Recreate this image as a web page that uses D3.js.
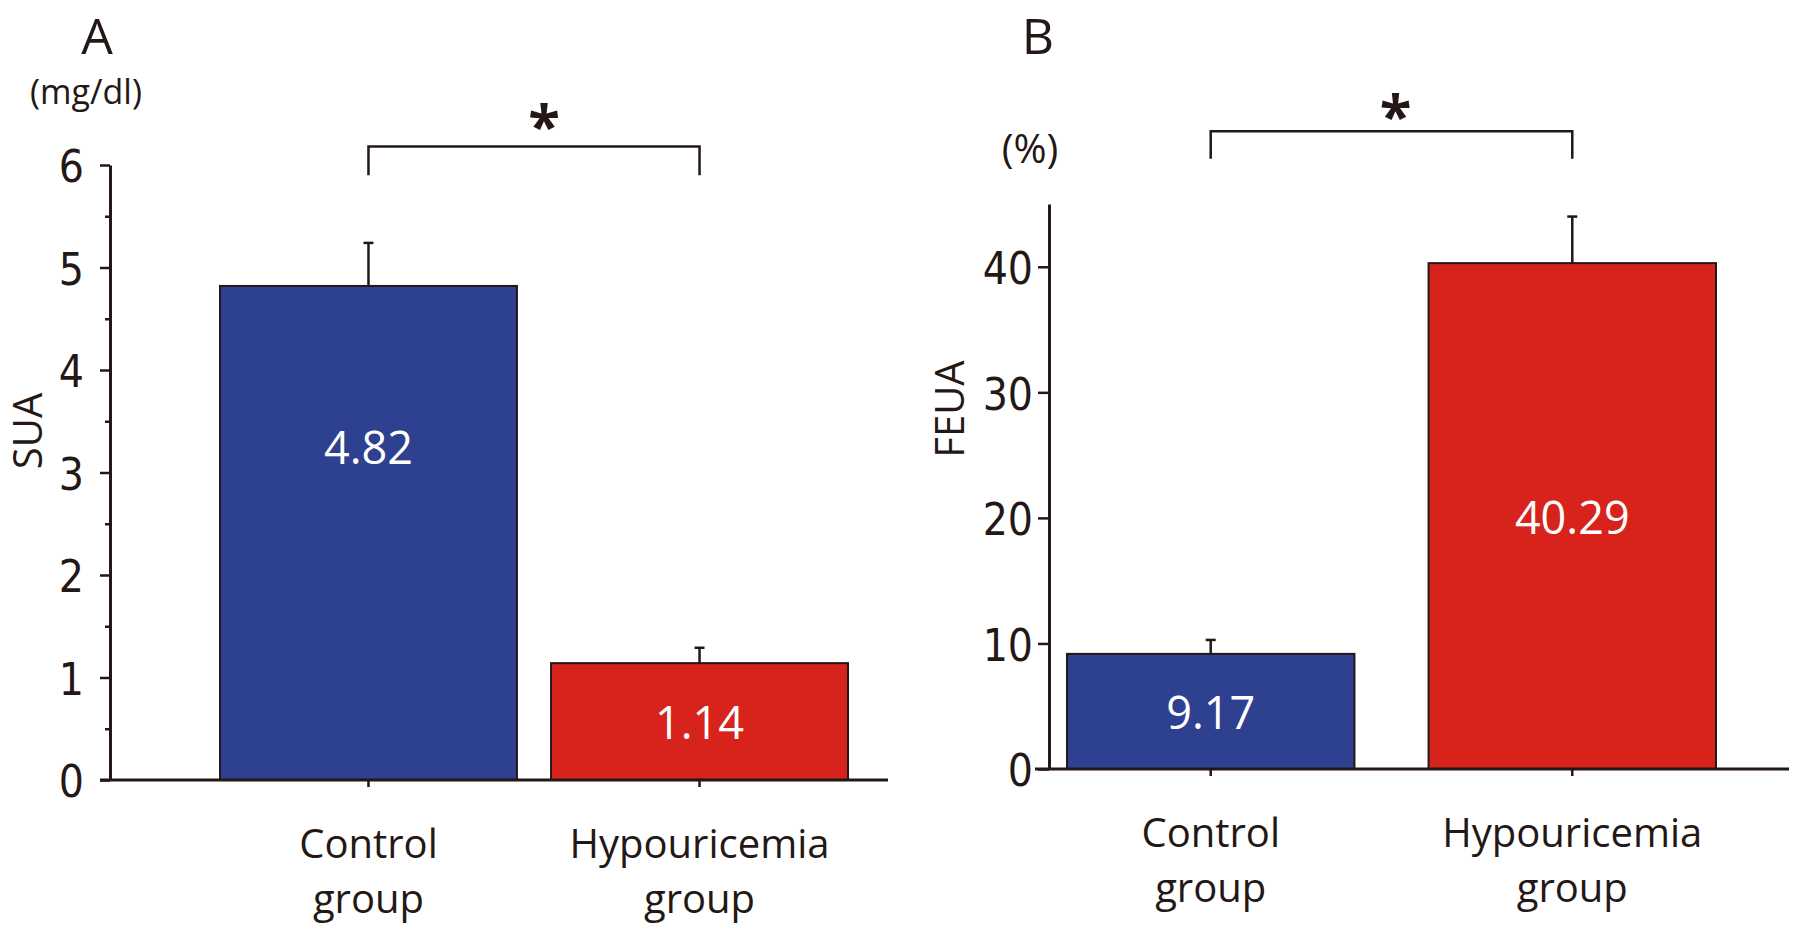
<!DOCTYPE html>
<html>
<head>
<meta charset="utf-8">
<script src="https://cdn.jsdelivr.net/npm/d3@7"></script>
<style>
  body { margin: 0; background: #fff; }
  svg { display: block; }
  .tick text { font-family: "Liberation Sans Narrow", "DejaVu Sans Condensed", "Roboto Condensed", sans-serif; font-stretch: condensed; fill: #231815; }
  .txt { font-family: "Open Sans", "Noto Sans", sans-serif; fill: #231815; }
</style>
</head>
<body>
<div id="wrapper"></div>
<script>
const categories = ['Control group', 'Hypouricemia group']
const suaMeans = [4.82, 1.14]
const suaErrors = [0.42, 0.15]
const suaTicks = [0, 1, 2, 3, 4, 5, 6]
const suaMinorTicks = [0.5, 1.5, 2.5, 3.5, 4.5, 5.5]
const feuaMeans = [9.17, 40.29]
const feuaErrors = [1.11, 3.71]
const feuaTicks = [0, 10, 20, 30, 40]
const barColors = ['#2e4190', '#d8231d']
const ink = '#231815'

const dimensions = { width: 1799, height: 931 }

const svg = d3.select('#wrapper').append('svg')
    .attr('width', dimensions.width)
    .attr('height', dimensions.height)

// panel layout, in pixels and data units
const panels = [
    {
        letter: 'A', letterX: 97, letterY: 54,
        unit: '(mg/dl)', unitX: 86, unitY: 104, unitSize: 34,
        title: 'SUA', titleX: 26, titleY: 431,
        means: suaMeans, errors: suaErrors,
        ticks: suaTicks, minorTicks: suaMinorTicks,
        yDomain: [0, 6], yRange: [780, 165],
        axisX: 110, tickSize: 10, tickPadding: 16,
        xRange: [220, 848], padInner: 0.103,
        baseLine: [100, 888],
        labelAt: [3.25, null],
        bracket: [5.9, 6.18], star: 6.55, starDx: 10
    },
    {
        letter: 'B', letterX: 1038, letterY: 54,
        unit: '(%)', unitX: 1030, unitY: 163, unitSize: 40,
        title: 'FEUA', titleX: 948, titleY: 409,
        means: feuaMeans, errors: feuaErrors,
        ticks: feuaTicks, minorTicks: [],
        yDomain: [0, 45], yRange: [769, 204],
        axisX: 1049, tickSize: 11, tickPadding: 5,
        xRange: [1067, 1716], padInner: 0.205,
        baseLine: [1035, 1789],
        labelAt: [null, null],
        bracket: [48.6, 50.8], star: 53.4, starDx: 4
    }
]

panels.forEach(drawPanel)

function drawPanel (p) {
    const yScale = d3.scaleLinear().domain(p.yDomain).range(p.yRange)
    const xScale = d3.scaleBand()
        .domain(categories)
        .range(p.xRange)
        .paddingInner(p.padInner)
        .paddingOuter(0)
    const cx = (c) => xScale(c) + xScale.bandwidth() / 2
    const g = svg.append('g')

    // bars
    g.selectAll('rect.bar')
        .data(categories)
        .join('rect')
        .attr('class', 'bar')
        .attr('x', d => xScale(d))
        .attr('width', xScale.bandwidth())
        .attr('y', (d, i) => yScale(p.means[i]))
        .attr('height', (d, i) => yScale(0) - yScale(p.means[i]))
        .attr('fill', (d, i) => barColors[i])
        .attr('stroke', ink)
        .attr('stroke-width', 2)

    // error bars
    const err = g.selectAll('g.err')
        .data(categories)
        .join('g')
        .attr('class', 'err')
        .attr('stroke', ink)
        .attr('stroke-width', 2.5)
    err.append('line')
        .attr('x1', d => cx(d)).attr('x2', d => cx(d))
        .attr('y1', (d, i) => yScale(p.means[i]))
        .attr('y2', (d, i) => yScale(p.means[i] + p.errors[i]))
    err.append('line')
        .attr('x1', d => cx(d) - 5).attr('x2', d => cx(d) + 5)
        .attr('y1', (d, i) => yScale(p.means[i] + p.errors[i]))
        .attr('y2', (d, i) => yScale(p.means[i] + p.errors[i]))

    // value labels
    g.selectAll('text.val')
        .data(categories)
        .join('text')
        .attr('class', 'txt val')
        .attr('x', d => cx(d))
        .attr('y', (d, i) => yScale(p.labelAt[i] !== null ? p.labelAt[i] : p.means[i] / 2))
        .attr('text-anchor', 'middle')
        .attr('dominant-baseline', 'central')
        .style('fill', '#fff')
        .style('font-size', '45px')
        .text((d, i) => p.means[i].toFixed(2))

    // y axis
    const yAxis = g.append('g')
        .attr('transform', `translate(${p.axisX},0)`)
        .call(d3.axisLeft(yScale)
            .tickValues(p.ticks)
            .tickSize(p.tickSize)
            .tickSizeOuter(0)
            .tickPadding(p.tickPadding)
            .tickFormat(d3.format('d')))
    yAxis.select('.domain').attr('stroke', ink).attr('stroke-width', 3)
    yAxis.selectAll('.tick line').attr('stroke', ink).attr('stroke-width', 2.5)
    yAxis.selectAll('.tick text').style('font-size', '44px').attr('dy', '0.38em')

    if (p.minorTicks.length) {
        const minor = g.append('g')
            .attr('transform', `translate(${p.axisX},0)`)
            .call(d3.axisLeft(yScale)
                .tickValues(p.minorTicks)
                .tickSize(5)
                .tickFormat(''))
        minor.select('.domain').remove()
        minor.selectAll('.tick line').attr('stroke', ink).attr('stroke-width', 2.5)
    }

    // x axis baseline and ticks
    g.append('line')
        .attr('x1', p.baseLine[0]).attr('x2', p.baseLine[1])
        .attr('y1', yScale(0)).attr('y2', yScale(0))
        .attr('stroke', ink).attr('stroke-width', 3)
    const xAxis = g.append('g')
        .attr('transform', `translate(0,${yScale(0)})`)
        .call(d3.axisBottom(xScale).tickSize(7).tickSizeOuter(0).tickFormat(''))
    xAxis.select('.domain').remove()
    xAxis.selectAll('.tick line').attr('stroke', ink).attr('stroke-width', 2.5)

    // category labels on two lines
    const cat = g.selectAll('text.cat')
        .data(categories)
        .join('text')
        .attr('class', 'txt cat')
        .attr('text-anchor', 'middle')
        .style('font-size', '40px')
    cat.selectAll('tspan')
        .data(d => d.split(' ').map(w => ({ w, x: cx(d) })))
        .join('tspan')
        .attr('x', d => d.x)
        .attr('y', (d, i) => yScale(0) + 78 + i * 55)
        .text(d => d.w)

    // significance bracket
    const xl = cx(categories[0])
    const xr = cx(categories[1])
    g.append('path')
        .attr('d', `M${xl},${yScale(p.bracket[0])}V${yScale(p.bracket[1])}H${xr}V${yScale(p.bracket[0])}`)
        .attr('fill', 'none')
        .attr('stroke', ink)
        .attr('stroke-width', 2.5)
    g.append('text')
        .attr('class', 'txt')
        .attr('x', (xl + xr) / 2 + p.starDx)
        .attr('y', yScale(p.star))
        .attr('text-anchor', 'middle')
        .attr('dominant-baseline', 'central')
        .attr('dy', '0.28em')
        .style('font-size', '58px')
        .style('font-weight', 'bold')
        .text('*')

    // panel letter, unit, axis title
    g.append('text')
        .attr('class', 'txt')
        .attr('x', p.letterX).attr('y', p.letterY)
        .attr('text-anchor', 'middle')
        .style('font-size', '50px')
        .text(p.letter)
    g.append('text')
        .attr('class', 'txt')
        .attr('x', p.unitX).attr('y', p.unitY)
        .attr('text-anchor', 'middle')
        .style('font-size', p.unitSize + 'px')
        .text(p.unit)
    g.append('text')
        .attr('class', 'txt')
        .attr('transform', `translate(${p.titleX},${p.titleY}) rotate(-90)`)
        .attr('text-anchor', 'middle')
        .attr('dominant-baseline', 'central')
        .style('font-size', '40px')
        .text(p.title)
}
</script>
</body>
</html>
